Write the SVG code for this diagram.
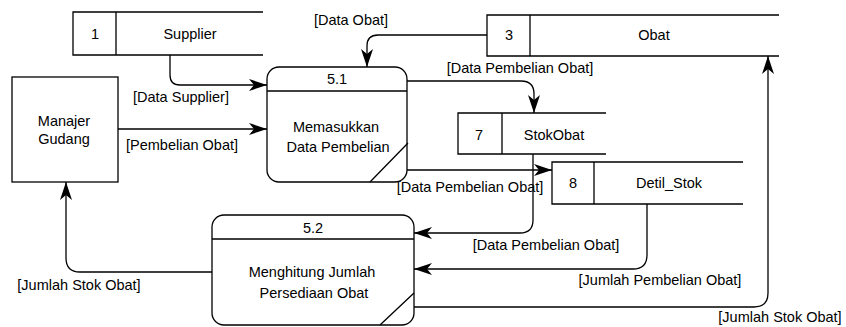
<svg xmlns="http://www.w3.org/2000/svg" width="846" height="327" viewBox="0 0 846 327">
  <style>
    .ln { fill: none; stroke: #000; stroke-width: 1.3; }
    .box { fill: #fff; stroke: #000; stroke-width: 1.3; }
    .flow { fill: none; stroke: #000; stroke-width: 1.3; marker-end: url(#arr); }
    text { font-family: "Liberation Sans", Arial, sans-serif; font-size: 14.5px; fill: #000; text-anchor: middle; }
  </style>
  <defs>
    <marker id="arr" viewBox="0 0 18 12" refX="18" refY="6" markerWidth="18" markerHeight="12" orient="auto" markerUnits="userSpaceOnUse">
      <path d="M0,0 L18,6 L0,12 L5,6 z" fill="#000"/>
    </marker>
  </defs>

  <rect width="846" height="327" fill="#fff"/>

  <!-- external entity -->
  <g id="manajer-gudang">
    <rect class="box" x="12" y="77" width="106" height="105"/>
    <text x="64" y="126">Manajer</text>
    <text x="64" y="144">Gudang</text>
  </g>

  <!-- data stores -->
  <g id="store-1">
    <path class="ln" d="M263,12 H73 V55 H263 M116,12 V55"/>
    <text x="95" y="39">1</text>
    <text x="190" y="39">Supplier</text>
  </g>
  <g id="store-3">
    <path class="ln" d="M779,15 H487 V56 H779 M530,15 V56"/>
    <text x="509" y="40">3</text>
    <text x="654" y="40">Obat</text>
  </g>
  <g id="store-7">
    <path class="ln" d="M606,113 H458 V154 H606 M502,113 V154"/>
    <text x="479" y="140">7</text>
    <text x="554" y="140">StokObat</text>
  </g>
  <g id="store-8">
    <path class="ln" d="M743,162 H552 V204 H743 M594,162 V204"/>
    <text x="573" y="188">8</text>
    <text x="669" y="188">Detil_Stok</text>
  </g>

  <!-- processes -->
  <g id="process-5-1">
    <rect class="box" x="267" y="67" width="140" height="115" rx="12"/>
    <path class="ln" d="M267,91 H407 M408,143 L370,182"/>
    <text x="337" y="84">5.1</text>
    <text x="336" y="132">Memasukkan</text>
    <text x="338" y="152">Data Pembelian</text>
  </g>
  <g id="process-5-2">
    <rect class="box" x="212" y="215" width="202" height="110" rx="12"/>
    <path class="ln" d="M212,239 H414 M414,293 L380,325"/>
    <text x="313" y="233">5.2</text>
    <text x="312" y="277">Menghitung Jumlah</text>
    <text x="314" y="298">Persediaan Obat</text>
  </g>

  <!-- data flows -->
  <g id="connectors">
    <path class="flow" d="M170,55 V75 Q170,85 180,85 H267"/>
    <path class="flow" d="M118,129 H267"/>
    <path class="flow" d="M487,35 H378 Q367,35 367,46 V67"/>
    <path class="flow" d="M407,81 H521 Q534,81 534,94 V113"/>
    <path class="flow" d="M407,170 H552"/>
    <path class="flow" d="M533,154 V220 Q533,233 520,233 H414"/>
    <path class="flow" d="M647,204 V255 Q647,269 633,269 H414"/>
    <path class="flow" d="M414,307 H754 Q768,307 768,293 V56"/>
    <path class="flow" d="M212,272 H80 Q66,272 66,258 V182"/>

    <text x="181" y="102">[Data Supplier]</text>
    <text x="182" y="150">[Pembelian Obat]</text>
    <text x="351" y="25">[Data Obat]</text>
    <text x="520" y="73">[Data Pembelian Obat]</text>
    <text x="470" y="192">[Data Pembelian Obat]</text>
    <text x="546" y="250">[Data Pembelian Obat]</text>
    <text x="660" y="285">[Jumlah Pembelian Obat]</text>
    <text x="780" y="322">[Jumlah Stok Obat]</text>
    <text x="79" y="290">[Jumlah Stok Obat]</text>
  </g>
</svg>
